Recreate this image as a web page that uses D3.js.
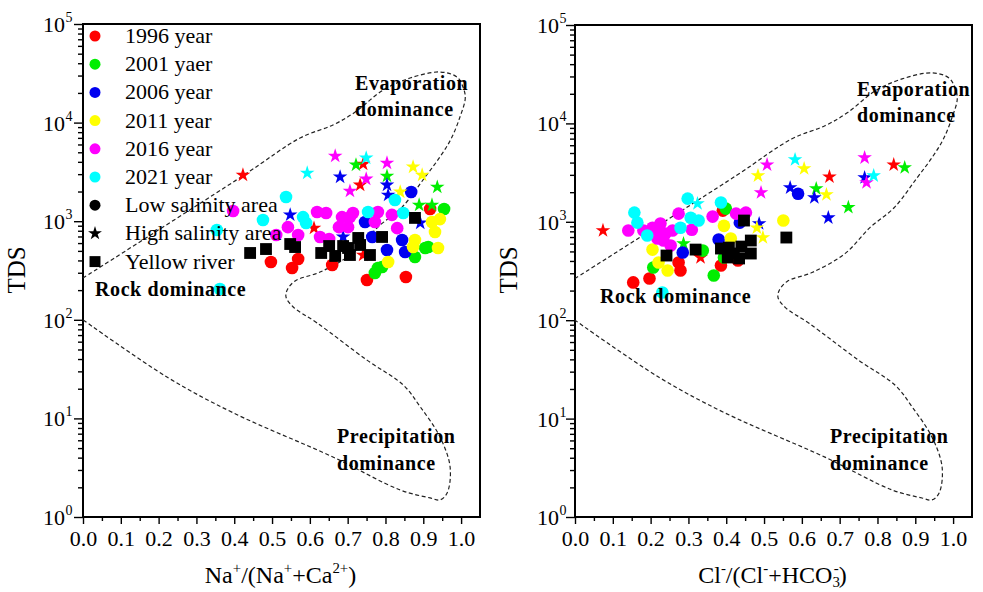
<!DOCTYPE html>
<html>
<head>
<meta charset="utf-8">
<script src="https://cdn.jsdelivr.net/npm/d3@7"></script>
<style>
  body { margin: 0; background: #fff; }
  svg { display: block; }
  text { font-family: "Liberation Serif", "Times New Roman", serif; fill: #000; }
</style>
</head>
<body>
<svg id="chart" width="983" height="592"></svg>
<script>
// ---- series names and colours ----
const yearNames = ["1996 year", "2001 yaer", "2006 year", "2011 year", "2016 year", "2021 year"];
const yearColors = ["#ff0000", "#00ee00", "#0000f0", "#ffff00", "#ff00ff", "#00ffff"];
const typeNames = ["Low salinity area", "High salinity area", "Yellow river"];

// ---- axis ticks ----
const xTickValues = [0, 0.1, 0.2, 0.3, 0.4, 0.5, 0.6, 0.7, 0.8, 0.9, 1.0];
const xMinorValues = [0.05, 0.15, 0.25, 0.35, 0.45, 0.55, 0.65, 0.75, 0.85, 0.95];
const yTickExponents = [0, 1, 2, 3, 4, 5];

// ---- Gibbs boundary (ratio, TDS mg/L) ----
const gibbsBoundary = [
  [0, 265], [0.426, 2940], [0.574, 6980], [0.661, 9460], [0.720, 12800], [0.794, 21400],
  [0.865, 28300], [0.944, 32600], [0.989, 29000], [1.005, 23000], [1.011, 17700],
  [0.997, 11400], [0.974, 6900], [0.944, 4480], [0.905, 2810], [0.844, 1390], [0.780, 873],
  [0.714, 475], [0.627, 305], [0.561, 248], [0.540, 200], [0.537, 170], [0.556, 135],
  [0.619, 93], [0.751, 39], [0.847, 21.8], [0.892, 13.1], [0.944, 6.5], [0.971, 3.2],
  [0.963, 1.75], [0.944, 1.49], [0.918, 1.56], [0.839, 1.88], [0.661, 4.06], [0.397, 11.4],
  [0.222, 26.3], [0, 100]
];

// ---- Na+/(Na+ + Ca2+) vs TDS ----
const naLow1996 = [[0.497,386],[0.569,414],[0.553,335],[0.659,360],[0.751,253],[0.854,272],[0.918,1330]];
const naHigh1996 = [[0.423,2940],[0.741,3800],[0.733,2330],[0.611,850],[0.741,454]];
const naLow2001 = [[0.955,1330],[0.780,335],[0.772,298],[0.791,343],[0.878,434],[0.905,535],[0.913,547]];
const naHigh2001 = [[0.722,3720],[0.804,2870],[0.937,2220],[0.889,1460],[0.923,1460]];
const naLow2006 = [[0.868,1980],[0.746,980],[0.765,692],[0.844,645],[0.852,487],[0.804,510]];
const naHigh2006 = [[0.680,2810],[0.804,2330],[0.807,1840],[0.548,1160],[0.892,960],[0.688,692]];
const naLow2011 = [[0.923,980],[0.944,1050],[0.931,777],[0.878,645],[0.873,547],[0.939,535],[0.807,386]];
const naHigh2011 = [[0.873,3550],[0.897,2940],[0.839,1980]];
const naLow2016 = [[0.397,1270],[0.619,1240],[0.643,1210],[0.685,1100],[0.714,1210],[0.780,1240],[0.817,1160],
  [0.542,870],[0.569,725],[0.627,692],[0.651,660],[0.677,870],[0.701,870],[0.706,1100],[0.772,980],[0.831,850],[0.511,725]];
const naHigh2016 = [[0.667,4580],[0.804,3890],[0.749,2680],[0.706,2020]];
const naLow2021 = [[0.537,1760],[0.476,1030],[0.582,1100],[0.590,960],[0.754,1240],[0.847,1210],[0.825,1640],[0.354,815],[0.362,205]];
const naHigh2021 = [[0.593,3080],[0.749,4380]];
const naRiver = [[0.442,476],[0.484,522],[0.548,587],[0.561,547],[0.630,476],[0.651,560],[0.667,444],[0.688,560],
  [0.706,454],[0.728,676],[0.733,574],[0.759,454],[0.791,692],[0.878,1080],[0.701,535]];

// ---- Cl-/(Cl- + HCO3-) vs TDS ----
const clLow1996 = [[0.154,242],[0.197,265],[0.274,386],[0.279,320],[0.386,360],[0.431,404],[0.391,1300]];
const clHigh1996 = [[0.074,815],[0.332,434],[0.673,2870],[0.843,3800]];
const clLow2001 = [[0.207,343],[0.367,285],[0.399,1360],[0.338,510],[0.394,434]];
const clHigh2001 = [[0.287,600],[0.638,2170],[0.723,1400],[0.872,3550]];
const clLow2006 = [[0.285,487],[0.380,660],[0.436,980],[0.590,1930]];
const clHigh2006 = [[0.569,2220],[0.633,1760],[0.670,1100],[0.766,2810],[0.487,960]];
const clLow2011 = [[0.205,522],[0.221,386],[0.394,910],[0.551,1030],[0.412,676],[0.245,320]];
const clHigh2011 = [[0.484,2940],[0.606,3470],[0.665,1890],[0.481,870],[0.497,692]];
const clLow2016 = [[0.141,815],[0.181,815],[0.226,960],[0.213,815],[0.239,760],[0.234,645],[0.258,815],[0.274,1210],
  [0.309,830],[0.364,1130],[0.426,1210],[0.452,1240],[0.218,676],[0.253,574],[0.205,870]];
const clHigh2016 = [[0.508,3800],[0.492,1980],[0.766,4480],[0.771,2500]];
const clLow2021 = [[0.157,1240],[0.165,980],[0.191,725],[0.298,1720],[0.306,1100],[0.327,1030],[0.386,1570],[0.279,870],[0.231,191]];
const clHigh2021 = [[0.324,1530],[0.582,4280],[0.790,2940]];
const clRiver = [[0.242,454],[0.319,522],[0.386,535],[0.407,547],[0.420,476],[0.447,1030],[0.465,645],[0.465,476],
  [0.434,424],[0.404,434],[0.559,692],[0.440,560]];

const svg = d3.select("#chart");

const symCircle = d3.symbol().type(d3.symbolCircle).size(125);
const symStar = d3.symbol().type(d3.symbolStar).size(66);
const symSquare = d3.symbol().type(d3.symbolSquare).size(140);

// text with super/subscript parts
function richText(parent, x, y, parts, size, anchor, weight) {
  const t = parent.append("text").attr("x", x).attr("y", y)
    .attr("font-size", size).attr("text-anchor", anchor || "start");
  if (weight) t.attr("font-weight", weight);
  let shift = 0;
  parts.forEach(p => {
    const target = p.sup ? -size * 0.4 : p.sub ? size * 0.18 : 0;
    const ts = t.append("tspan").attr("dy", target - shift).text(p.t);
    if (p.sup || p.sub) ts.attr("font-size", size * 0.62);
    if (p.dx) ts.attr("dx", p.dx);
    shift = target;
  });
  return t;
}

function drawPanel(cfg) {
  const g = svg.append("g");
  const x = d3.scaleLinear().domain([0, 1.05]).range([cfg.left, cfg.right]);
  const y = d3.scaleLog().domain([1, 1e5]).range([cfg.bottom, cfg.top]);

  // x axis: major + minor ticks
  const xa = g.append("g").attr("transform", `translate(0,${cfg.bottom})`)
    .call(d3.axisBottom(x).tickValues(xTickValues).tickFormat(d3.format(".1f")).tickSize(7).tickPadding(6));
  xa.selectAll("text").attr("font-size", 22).attr("font-family", "Liberation Serif");
  g.append("g").attr("transform", `translate(0,${cfg.bottom})`)
    .call(d3.axisBottom(x).tickValues(xMinorValues).tickFormat("").tickSize(4));

  // y axis: decades + log minor ticks
  const yMajor = yTickExponents.map(e => Math.pow(10, e));
  const yMinor = [];
  yTickExponents.slice(0, -1).forEach(e => { for (let m = 2; m <= 9; m++) yMinor.push(m * Math.pow(10, e)); });
  g.append("g").attr("transform", `translate(${cfg.left},0)`)
    .call(d3.axisLeft(y).tickValues(yMajor).tickFormat("").tickSize(9));
  g.append("g").attr("transform", `translate(${cfg.left},0)`)
    .call(d3.axisLeft(y).tickValues(yMinor).tickFormat("").tickSize(5));
  g.selectAll(".domain").remove();
  g.selectAll(".tick line").attr("stroke", "#000").attr("stroke-width", 1.4);

  yTickExponents.forEach(e => {
    const yy = y(Math.pow(10, e));
    g.append("text").attr("x", cfg.left - cfg.labelGap).attr("y", yy + 8)
      .attr("text-anchor", "end").attr("font-size", 22).text("10");
    g.append("text").attr("x", cfg.left - cfg.labelGap + 0.5).attr("y", yy - 2)
      .attr("font-size", 14).text(String(e));
  });

  // frame
  g.append("rect").attr("x", cfg.left).attr("y", cfg.top)
    .attr("width", cfg.right - cfg.left).attr("height", cfg.bottom - cfg.top)
    .attr("fill", "none").attr("stroke", "#000").attr("stroke-width", 2);

  // Gibbs boundary
  const line = d3.line().x(d => x(d[0])).y(d => y(d[1])).curve(d3.curveCatmullRom.alpha(0.5));
  g.append("path").datum(gibbsBoundary).attr("d", line)
    .attr("fill", "none").attr("stroke", "#222").attr("stroke-width", 1.2)
    .attr("stroke-dasharray", "4,2.6");

  // data marks
  cfg.series.forEach((s, i) => {
    g.append("g").selectAll("path").data(s.low).join("path")
      .attr("d", symCircle).attr("transform", d => `translate(${x(d[0])},${y(d[1])})`)
      .attr("fill", yearColors[i]);
    g.append("g").selectAll("path").data(s.high).join("path")
      .attr("d", symStar).attr("transform", d => `translate(${x(d[0])},${y(d[1])})`)
      .attr("fill", yearColors[i]);
  });
  g.append("g").selectAll("path").data(cfg.river).join("path")
    .attr("d", symSquare).attr("transform", d => `translate(${x(d[0])},${y(d[1])})`)
    .attr("fill", "#000");

  // region labels
  const lab = (tx, ty, s) => g.append("text").attr("x", tx).attr("y", ty)
    .attr("font-size", 20).attr("font-weight", "bold").attr("letter-spacing", 0.6).text(s);
  lab(cfg.evap[0], cfg.evap[1], "Evaporation");
  lab(cfg.evap[0], cfg.evap[1] + 26, "dominance");
  lab(cfg.rock[0], cfg.rock[1], "Rock dominance");
  lab(cfg.prec[0], cfg.prec[1], "Precipitation");
  lab(cfg.prec[0], cfg.prec[1] + 27, "dominance");

  // axis titles
  g.append("text").attr("transform", `translate(${cfg.left - 58},270) rotate(-90)`)
    .attr("text-anchor", "middle").attr("font-size", 25).text("TDS");
  richText(g, (cfg.left + cfg.right) / 2 - 1, 583, cfg.xTitle, 24, "middle");
  return g;
}

drawPanel({
  left: 83, right: 480, top: 24, bottom: 517, labelGap: 18,
  series: [
    { low: naLow1996, high: naHigh1996 }, { low: naLow2001, high: naHigh2001 },
    { low: naLow2006, high: naHigh2006 }, { low: naLow2011, high: naHigh2011 },
    { low: naLow2016, high: naHigh2016 }, { low: naLow2021, high: naHigh2021 }
  ],
  river: naRiver,
  evap: [355, 90], rock: [95, 296], prec: [337, 443],
  xTitle: [{ t: "Na" }, { t: "+", sup: true }, { t: "/(Na" }, { t: "+", sup: true }, { t: "+Ca" }, { t: "2+", sup: true }, { t: ")" }]
});

drawPanel({
  left: 575, right: 972, top: 25, bottom: 517, labelGap: 16,
  series: [
    { low: clLow1996, high: clHigh1996 }, { low: clLow2001, high: clHigh2001 },
    { low: clLow2006, high: clHigh2006 }, { low: clLow2011, high: clHigh2011 },
    { low: clLow2016, high: clHigh2016 }, { low: clLow2021, high: clHigh2021 }
  ],
  river: clRiver,
  evap: [857, 96], rock: [600, 303], prec: [830, 443],
  xTitle: [{ t: "Cl" }, { t: "-", sup: true }, { t: "/(Cl" }, { t: "-", sup: true }, { t: "+HCO" }, { t: "3", sub: true }, { t: "-", sup: true, dx: -6 }, { t: ")" }]
});

// legend (left panel)
const legend = svg.append("g");
const rowY = i => 36 + i * 28.2;
yearNames.forEach((name, i) => {
  legend.append("path").attr("d", d3.symbol().type(d3.symbolCircle).size(95)())
    .attr("transform", `translate(95,${rowY(i)})`).attr("fill", yearColors[i]);
  legend.append("text").attr("x", 125).attr("y", rowY(i) + 7).attr("font-size", 22).text(name);
});
const typeSymbols = [
  d3.symbol().type(d3.symbolCircle).size(95)(),
  d3.symbol().type(d3.symbolStar).size(60)(),
  d3.symbol().type(d3.symbolSquare).size(120)()
];
typeNames.forEach((name, j) => {
  const i = yearNames.length + j;
  legend.append("path").attr("d", typeSymbols[j])
    .attr("transform", `translate(95,${rowY(i)})`).attr("fill", "#000");
  legend.append("text").attr("x", 125).attr("y", rowY(i) + 7).attr("font-size", 22).text(name);
});
</script>
</body>
</html>
